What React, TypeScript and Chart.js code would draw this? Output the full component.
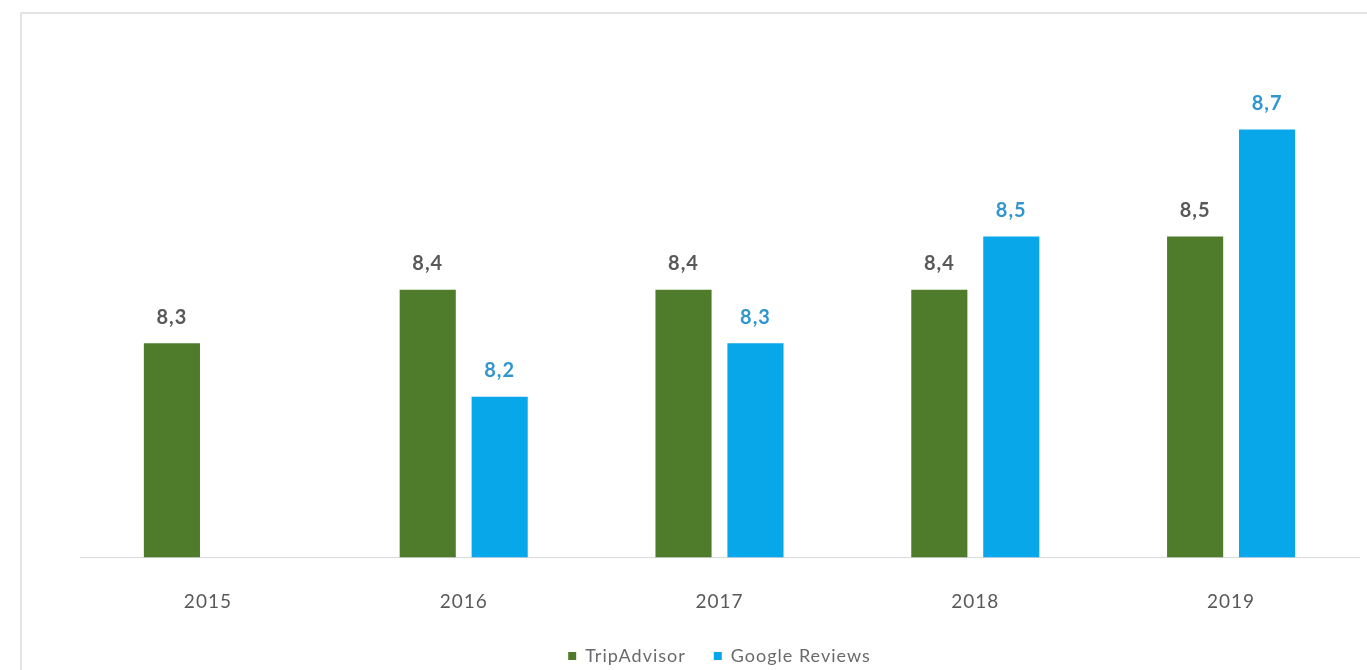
import React, { useEffect, useRef } from "react";
import { Chart, registerables } from "chart.js";
Chart.register(...registerables);

const categories = ["2015", "2016", "2017", "2018", "2019"];
const tripAdvisor: (number | null)[] = [8.3, 8.4, 8.4, 8.4, 8.5];
const googleReviews: (number | null)[] = [null, 8.2, 8.3, 8.5, 8.7];
const seriesNames = ["TripAdvisor", "Google Reviews"];

const GREEN = "#4e7c2b";
const BLUE = "#08a7e9";

export default function App() {
  const ref = useRef<HTMLCanvasElement>(null);
  useEffect(() => {
    document.body.style.margin = "0";
    document.body.style.overflow = "hidden";
    const spacingPlugin = {
      id: "spacing",
      beforeUpdate(chart: any) {
        chart.ctx.letterSpacing = "1px";
      },
      beforeDraw(chart: any) {
        chart.ctx.letterSpacing = "1px";
      },
    };
    const labelPlugin = {
      id: "valueLabels",
      afterDatasetsDraw(chart: any) {
        const ctx = chart.ctx;
        chart.data.datasets.forEach((ds: any, i: number) => {
          const meta = chart.getDatasetMeta(i);
          meta.data.forEach((bar: any, j: number) => {
            const v = ds.data[j];
            if (v == null) return;
            ctx.save();
            ctx.font = "bold 20px Lato";
            ctx.letterSpacing = "1px";
            ctx.fillStyle = i === 0 ? "#595959" : "#3196d0";
            ctx.textAlign = "center";
            ctx.textBaseline = "middle";
            ctx.fillText(v.toFixed(1).replace(".", ","), bar.x, bar.y - 26);
            ctx.restore();
          });
        });
      },
    };
    const chart = new Chart(ref.current as HTMLCanvasElement, {
      type: "bar",
      data: {
        labels: categories,
        datasets: [
          {
            label: seriesNames[0],
            data: tripAdvisor,
            backgroundColor: GREEN,
            categoryPercentage: 0.5625,
            barPercentage: 0.78,
          },
          {
            label: seriesNames[1],
            data: googleReviews,
            backgroundColor: BLUE,
            categoryPercentage: 0.5625,
            barPercentage: 0.78,
          },
        ],
      },
      options: {
        responsive: false,
        animation: false,
        layout: { padding: { left: 80, right: 8, top: 76, bottom: -5 } },
        scales: {
          x: {
            grid: { display: false, drawTicks: false },
            border: { display: true, color: "#d9d9d9", width: 1 },
            ticks: {
              padding: 33,
              color: "#595959",
              font: { family: "Lato", size: 19 },
            },
            afterFit(scale: any) {
              scale.height -= 27;
            },
          },
          y: {
            display: false,
            min: 7.9,
            max: 8.8,
          },
        },
        plugins: {
          legend: {
            position: "bottom",
            labels: {
              boxWidth: 8,
              boxHeight: 8,
              padding: 28,
              color: "#6a6a6a",
              font: { family: "Lato", size: 18 },
            },
          },
          tooltip: { enabled: false },
        },
      },
      plugins: [spacingPlugin, labelPlugin],
    });
    return () => chart.destroy();
  }, []);
  return (
    <div style={{ position: "fixed", left: 0, top: 0, width: 1367, height: 670, background: "#fff" }}>
      <div
        style={{
          position: "absolute",
          left: 20,
          top: 12,
          right: 0,
          bottom: 0,
          borderTop: "2px solid #e4e4e4",
          borderLeft: "2px solid #e4e4e4",
        }}
      />
      <canvas ref={ref} width={1367} height={670} style={{ position: "absolute", left: 0, top: 0 }} />
    </div>
  );
}
